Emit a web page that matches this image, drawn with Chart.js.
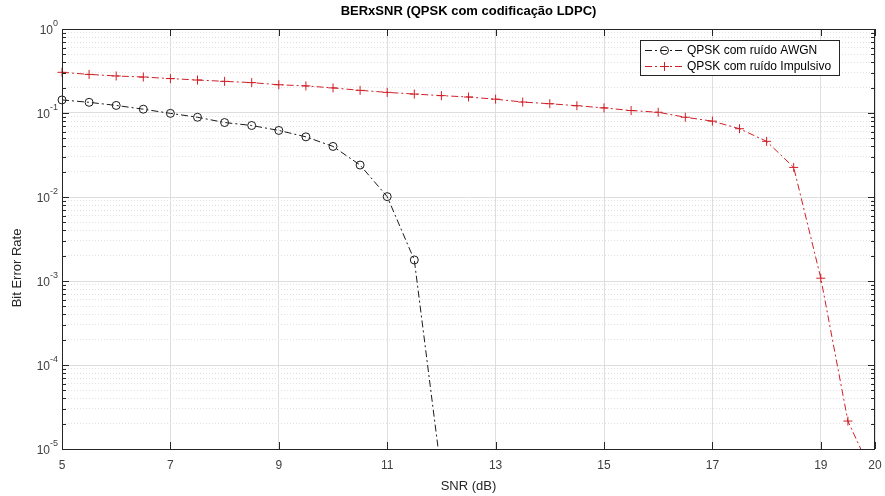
<!DOCTYPE html>
<html>
<head>
<meta charset="utf-8">
<script src="https://cdn.jsdelivr.net/npm/chart.js@4"></script>
<style>
  html, body { margin: 0; padding: 0; background: #fff; overflow: hidden; }
  #wrap { width: 885px; height: 496px; position: relative; }
</style>
</head>
<body>
<div id="wrap"><canvas id="berChart"></canvas></div>
<script>
// data
const snrAwgn = [5, 5.5, 6, 6.5, 7, 7.5, 8, 8.5, 9, 9.5, 10, 10.5, 11, 11.5, 12];
const berAwgn = [0.143, 0.134, 0.123, 0.111, 0.099, 0.089, 0.077, 0.071, 0.062, 0.052,
  0.040, 0.024, 0.0101, 0.00178, 0.000005];
const snrImp = [5, 5.5, 6, 6.5, 7, 7.5, 8, 8.5, 9, 9.5, 10, 10.5, 11, 11.5, 12, 12.5,
  13, 13.5, 14, 14.5, 15, 15.5, 16, 16.5, 17, 17.5, 18, 18.5, 19, 19.5, 20];
const berImp = [0.305, 0.288, 0.276, 0.268, 0.257, 0.247, 0.238, 0.230, 0.217, 0.210,
  0.199, 0.186, 0.176, 0.168, 0.161, 0.155, 0.146, 0.135, 0.129, 0.122, 0.115, 0.107,
  0.102, 0.089, 0.080, 0.065, 0.046, 0.0225, 0.00108, 0.0000215, 0.0000043];
const xTicks = [5, 7, 9, 11, 13, 15, 17, 19, 20];
const yDecades = [1, 0.1, 0.01, 0.001, 0.0001, 0.00001];
const yExponents = ['0', '-1', '-2', '-3', '-4', '-5'];

const FONT = '"Liberation Sans", Arial, Helvetica, sans-serif';
const AXIS_COLOR = '#262626';
const RED = '#d11f26';

function toPoints(xs, ys) {
  return xs.map((x, i) => ({ x: x, y: ys[i] }));
}

// minor ticks 2..9 of each decade
function minorValues() {
  let vals = [];
  for (let d = -5; d < 0; d++) {
    for (let m = 2; m <= 9; m++) vals.push(m * Math.pow(10, d));
  }
  return vals;
}

// axes box, inward ticks, y labels with exponents, y title, legend
const matlabAxes = {
  id: 'matlabAxes',
  afterDraw(chart) {
    const ctx = chart.ctx;
    const area = chart.chartArea;
    const xs = chart.scales.x;
    const ys = chart.scales.y;
    ctx.save();
    ctx.strokeStyle = AXIS_COLOR;
    ctx.lineWidth = 1;
    ctx.setLineDash([]);
    ctx.strokeRect(area.left + 0.5, area.top + 0.5, area.right - area.left - 1, area.bottom - area.top);

    ctx.beginPath();
    xTicks.forEach(v => {
      const px = Math.round(xs.getPixelForValue(v)) + 0.5;
      ctx.moveTo(px, area.bottom); ctx.lineTo(px, area.bottom - 7);
      ctx.moveTo(px, area.top); ctx.lineTo(px, area.top + 7);
    });
    yDecades.forEach(v => {
      const py = Math.round(ys.getPixelForValue(v)) + 0.5;
      ctx.moveTo(area.left, py); ctx.lineTo(area.left + 7, py);
      ctx.moveTo(area.right, py); ctx.lineTo(area.right - 7, py);
    });
    minorValues().forEach(v => {
      const py = Math.round(ys.getPixelForValue(v)) + 0.5;
      ctx.moveTo(area.left, py); ctx.lineTo(area.left + 4, py);
      ctx.moveTo(area.right, py); ctx.lineTo(area.right - 4, py);
    });
    ctx.stroke();

    // y tick labels 10^n
    ctx.fillStyle = '#404040';
    ctx.textBaseline = 'middle';
    ctx.textAlign = 'right';
    yDecades.forEach((v, i) => {
      const py = ys.getPixelForValue(v);
      ctx.font = '9px ' + FONT;
      const ew = ctx.measureText(yExponents[i]).width;
      const rightX = area.left - 4;
      ctx.fillText(yExponents[i], rightX, py - 5);
      ctx.font = '12px ' + FONT;
      ctx.fillText('10', rightX - ew, py + 2);
    });

    // y axis title
    ctx.save();
    ctx.translate(17, 268);
    ctx.rotate(-Math.PI / 2);
    ctx.textAlign = 'center';
    ctx.fillStyle = '#262626';
    ctx.font = '13px ' + FONT;
    ctx.fillText('Bit Error Rate', 0, 0);
    ctx.restore();

    // legend box
    const lx = 640, ly = 40, lw = 199, lh = 35;
    ctx.fillStyle = '#fff';
    ctx.fillRect(lx, ly, lw, lh);
    ctx.strokeStyle = AXIS_COLOR;
    ctx.lineWidth = 1;
    ctx.strokeRect(lx + 0.5, ly + 0.5, lw, lh);
    chart.data.datasets.forEach((ds, i) => {
      const rowY = ly + 10.5 + i * 16;
      ctx.strokeStyle = ds.borderColor;
      ctx.lineWidth = 1;
      ctx.setLineDash(ds.borderDash);
      ctx.beginPath();
      ctx.moveTo(lx + 5, rowY);
      ctx.lineTo(lx + 44, rowY);
      ctx.stroke();
      ctx.setLineDash([]);
      ctx.beginPath();
      if (ds.pointStyle === 'circle') {
        ctx.arc(lx + 24.5, rowY, 4, 0, Math.PI * 2);
      } else {
        ctx.moveTo(lx + 20, rowY); ctx.lineTo(lx + 29, rowY);
        ctx.moveTo(lx + 24.5, rowY - 4.5); ctx.lineTo(lx + 24.5, rowY + 4.5);
      }
      ctx.stroke();
      ctx.fillStyle = '#000';
      ctx.textAlign = 'left';
      ctx.font = '12px ' + FONT;
      ctx.fillText(ds.label, lx + 47, rowY);
    });
    ctx.restore();
  }
};

const dashDot = [7, 3, 2, 3];
const clipArea = { left: 10, top: 10, right: 10, bottom: 0 };

new Chart(document.getElementById('berChart').getContext('2d'), {
  type: 'line',
  data: {
    datasets: [
      {
        label: 'QPSK com ruído AWGN',
        data: toPoints(snrAwgn, berAwgn),
        borderColor: '#1a1a1a',
        borderWidth: 1,
        borderDash: dashDot,
        pointStyle: 'circle',
        pointRadius: 4,
        pointBorderWidth: 1,
        pointBorderColor: '#1a1a1a',
        pointBackgroundColor: 'rgba(0,0,0,0)',
        fill: false,
        tension: 0,
        clip: clipArea
      },
      {
        label: 'QPSK com ruído Impulsivo',
        data: toPoints(snrImp, berImp),
        borderColor: RED,
        borderWidth: 1,
        borderDash: dashDot,
        pointStyle: 'cross',
        pointRadius: 4.5,
        pointBorderWidth: 1,
        pointBorderColor: RED,
        pointBackgroundColor: RED,
        fill: false,
        tension: 0,
        clip: clipArea
      }
    ]
  },
  options: {
    responsive: true,
    maintainAspectRatio: false,
    animation: false,
    devicePixelRatio: 1,
    layout: { padding: { left: 0, right: 10, top: 0, bottom: 0 } },
    plugins: {
      legend: { display: false },
      tooltip: { enabled: false },
      title: {
        display: true,
        fullSize: false,
        text: 'BERxSNR (QPSK com codificação LDPC)',
        color: '#000',
        font: { family: FONT, size: 13, weight: 'bold' },
        padding: { top: 4, bottom: 9.4 }
      }
    },
    scales: {
      x: {
        type: 'linear',
        min: 5,
        max: 20,
        afterBuildTicks: (scale) => { scale.ticks = xTicks.map(v => ({ value: v })); },
        afterFit: (scale) => {
          scale.height = 47;
          scale.paddingLeft = 0;
          scale.paddingRight = 0;
        },
        ticks: {
          color: '#404040',
          font: { family: FONT, size: 12 },
          padding: 9,
          maxRotation: 0,
          autoSkip: false
        },
        grid: { color: '#dedede', lineWidth: 1, drawTicks: false },
        border: { display: false },
        title: {
          display: true,
          text: 'SNR (dB)',
          color: '#262626',
          font: { family: FONT, size: 13 },
          padding: { top: 0, bottom: 2.2 }
        }
      },
      y: {
        type: 'logarithmic',
        min: 0.00001,
        max: 1,
        afterBuildTicks: (scale) => { scale.ticks = yDecades.map(v => ({ value: v })); },
        afterFit: (scale) => { scale.width = 62; },
        ticks: { display: false },
        grid: { color: '#dedede', lineWidth: 1, drawTicks: false },
        border: { display: false }
      },
      yMinor: {
        type: 'logarithmic',
        position: 'left',
        min: 0.00001,
        max: 1,
        afterBuildTicks: (scale) => { scale.ticks = minorValues().map(v => ({ value: v })); },
        afterFit: (scale) => { scale.width = 0; },
        ticks: { display: false },
        grid: { color: '#e2e2e2', lineWidth: 1, drawTicks: false },
        border: { display: false, dash: [1, 2] }
      }
    }
  },
  plugins: [matlabAxes]
});
</script>
</body>
</html>
